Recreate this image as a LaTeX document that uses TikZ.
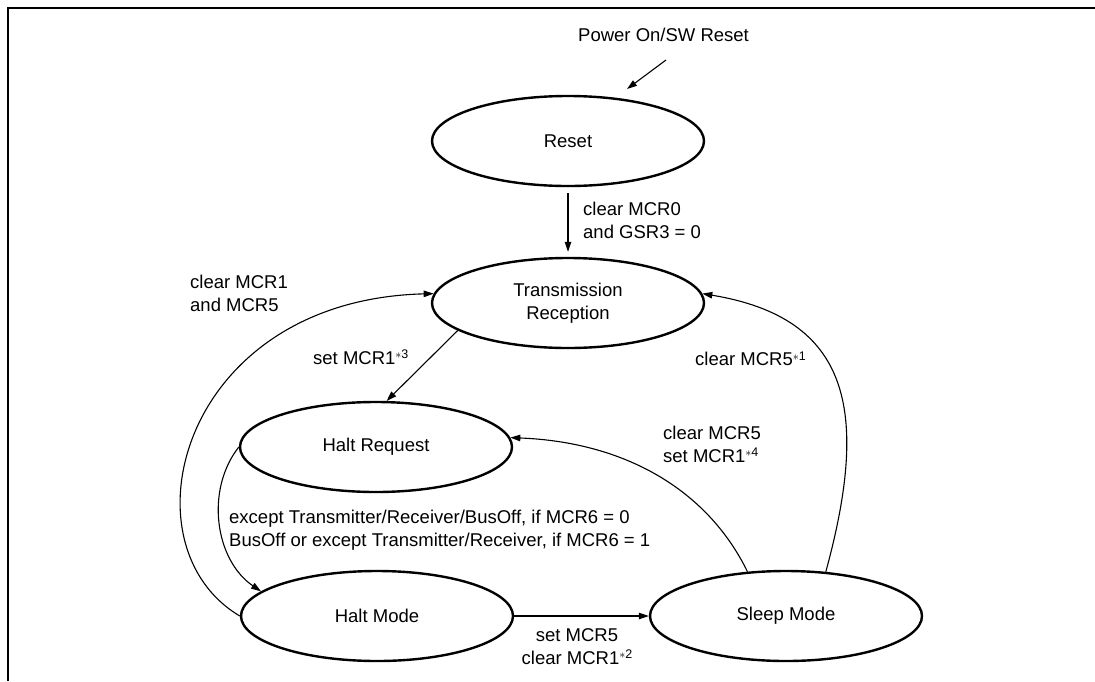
\documentclass[tikz,border=0pt]{standalone}
\usepackage{fontspec}
\setmainfont{Liberation Sans}
\usetikzlibrary{arrows.meta,shapes.geometric}
\newcommand{\fs}{\fontsize{18.5}{23}\selectfont}
\newcommand{\supn}[1]{\raisebox{5.5pt}{\fontsize{12.5}{12.5}\selectfont$\ast$#1}}
\begin{document}
\begin{tikzpicture}[x=1pt,y=-1pt,
  st/.style={ellipse,draw,line width=2.4pt,minimum width=272pt,minimum height=90pt,inner sep=0pt,font=\fs,align=center},
  lbl/.style={font=\fs,inner sep=0pt,align=left,anchor=west},
  con/.style={line width=1.1pt,-{Triangle[length=10pt,width=6.5pt]}}]
\useasboundingbox (0,0) rectangle (1095,681);
\draw[line width=2pt] (1095,8) -- (8,8) -- (8,681);

\node[st] (R) at (568,141) {Reset};
\node[st] (T) at (568,303) {Transmission\\Reception};
\node[st] (HR) at (376,447) {Halt Request};
\node[st] (HM) at (377,616) {Halt Mode};
\node[st] (SM) at (786,616) {Sleep Mode};

\node[lbl] (pw) at (578,35) {Power On/SW Reset};
\coordinate (pa) at (666,60);
\coordinate (pb) at (627,89);
\draw[con] (pa) -- (pb);

\draw[con,shorten <=6pt,shorten >=5pt] (R) -- (T);
\draw[con] (T.194) -- (HR.77);
\draw[con] (HM.east) -- (SM.west);
\draw[con] (HM.180) .. controls (120,545) and (180,300) .. (T.176);
\draw[con] (HR.180) .. controls (205,490) and (215,560) .. (HM.168);
\draw[con] (SM.131) .. controls (707,489) and (624,442) .. (HR.4);
\draw[con] (SM.48) .. controls (870,410) and (850,318) .. (T.4);

\node[lbl] (l1) at (583,220.5) {clear MCR0\\and GSR3 = 0};
\node[lbl] (l2) at (190,293) {clear MCR1\\and MCR5};
\node[lbl] (l3) at (313,357) {set MCR1\supn{3}};
\node[lbl] (l4) at (695,359) {clear MCR5\supn{1}};
\node[lbl] (l5) at (663,444) {clear MCR5\\set MCR1\supn{4}};
\node[lbl] (l6) at (229,530.5) {except Transmitter/Receiver/BusOff, if MCR6 = 0\\BusOff or except Transmitter/Receiver, if MCR6 = 1};
\node[lbl,align=center,anchor=center] (l7) at (577,646.5) {set MCR5\\clear MCR1\supn{2}};
\end{tikzpicture}
\end{document}
